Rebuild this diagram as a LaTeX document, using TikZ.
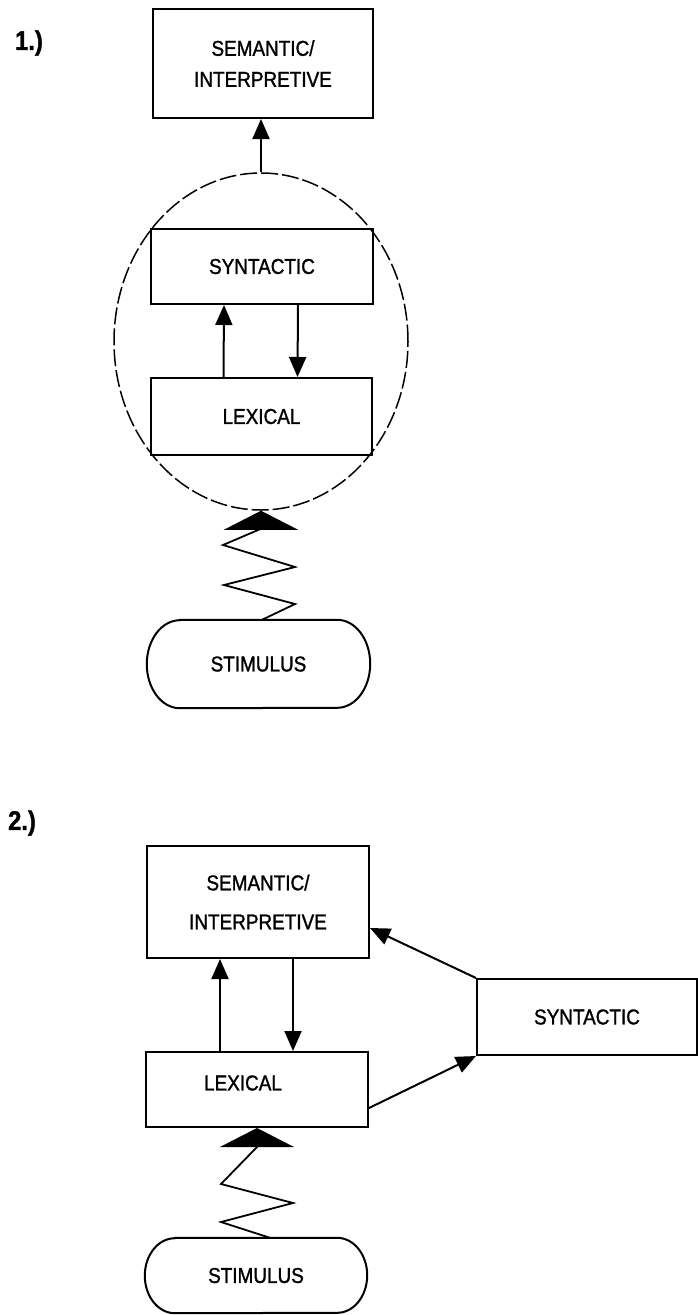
\documentclass[tikz,border=0pt]{standalone}
\usepackage{fontspec}
\setmainfont{Liberation Sans}[FakeStretch=0.88, FakeBold=1.3]
\usetikzlibrary{arrows.meta,shapes.geometric}
\tikzset{
  box/.style={draw, line width=2pt, inner sep=0pt, align=center, font=\fontsize{21.5}{31}\selectfont},
  stim/.style={inner sep=0pt, font=\fontsize{21.5}{25}\selectfont},
  stimline/.style={line width=2pt},
  arr/.style={line width=2pt, -{Triangle[length=20pt,width=17pt]}},
  zig/.style={line width=1.8pt, line join=miter, -{Triangle[length=19pt,width=74pt]}},
  lbl/.style={font=\bfseries\fontsize{27}{30}\selectfont, inner sep=0pt},
  dashell/.style={draw, ellipse, line width=1.5pt, dash pattern=on 17pt off 4pt, inner sep=0pt}
}
\begin{document}
\begin{tikzpicture}[x=1pt,y=-1pt]
\useasboundingbox (0,0) rectangle (698,1315);
% ---------- Part 1 ----------
\node[lbl] (n1) at (29,43) {1.)};
\node[box, minimum width=220pt, minimum height=109pt] (sem1) at (263,63.5) {SEMANTIC/\\INTERPRETIVE};
\node[dashell, minimum width=294pt, minimum height=337pt] (ell) at (261,341.5) {};
\node[box, minimum width=222pt, minimum height=75pt] (syn1) at (262,266.5) {SYNTACTIC};
\node[box, minimum width=221pt, minimum height=77pt] (lex1) at (261.5,416.5) {LEXICAL};
\node[stim, minimum width=223pt, minimum height=88pt] (stim1) at (258.5,664) {STIMULUS};
\draw[stimline] ([xshift=33pt]stim1.north west) -- ([xshift=-33pt]stim1.north east)
  arc[start angle=90, end angle=-90, x radius=33pt, y radius=44pt]
  -- ([xshift=33pt]stim1.south west)
  arc[start angle=270, end angle=90, x radius=33pt, y radius=44pt] -- cycle;
\draw[arr] (ell.north) -- (ell.north |- sem1.south);
\draw[arr] ([xshift=-38pt]lex1.north) -- ([xshift=-38pt]syn1.south);
\draw[arr] ([xshift=36pt]syn1.south) -- ([xshift=36pt]lex1.north);
\draw[zig] ([xshift=3.5pt]stim1.north) -- (295,604) -- (224,585) -- (295,567) -- (223,545) -- ([yshift=-18pt]ell.south) -- (ell.south);
% ---------- Part 2 ----------
\node[lbl] (n2) at (22,823) {2.)};
\node[box, minimum width=222pt, minimum height=112pt, font=\fontsize{21.5}{39}\selectfont] (sem2) at (258,902) {SEMANTIC/\\INTERPRETIVE};
\node[box, minimum width=220pt, minimum height=76pt] (syn2) at (587,1017) {SYNTACTIC};
\node[box, minimum width=222pt, minimum height=75pt] (lex2) at (257,1089.5) {};
\node[inner sep=0pt, font=\fontsize{21.5}{25}\selectfont] (lex2t) at (243,1083) {LEXICAL};
\node[stim, minimum width=222pt, minimum height=75pt] (stim2) at (256,1275.5) {STIMULUS};
\draw[stimline] ([xshift=30pt]stim2.north west) -- ([xshift=-30pt]stim2.north east)
  arc[start angle=90, end angle=-90, x radius=30pt, y radius=37.5pt]
  -- ([xshift=30pt]stim2.south west)
  arc[start angle=270, end angle=90, x radius=30pt, y radius=37.5pt] -- cycle;
\draw[arr] ([xshift=-37pt]lex2.north) -- ([xshift=-38pt]sem2.south);
\draw[arr] ([xshift=35pt]sem2.south) -- ([xshift=36pt]lex2.north);
\draw[arr] ([yshift=-18.5pt]lex2.east) -- (syn2.south west);
\draw[arr] (syn2.north west) -- ([yshift=-26pt]sem2.east);
\draw[zig] ([xshift=14pt]stim2.north) -- (221,1222) -- (293,1203) -- (221,1184) -- ([yshift=-19pt]lex2.south) -- (lex2.south);
\end{tikzpicture}
\end{document}
